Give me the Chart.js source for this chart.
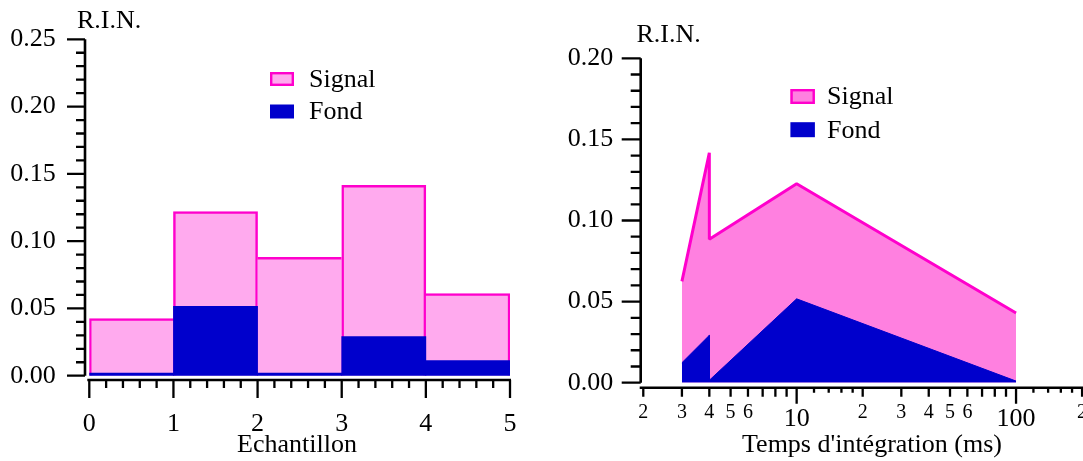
<!DOCTYPE html>
<html>
<head>
<meta charset="utf-8">
<title>R.I.N.</title>
<script src="https://cdn.jsdelivr.net/npm/chart.js@4/dist/chart.umd.min.js"></script>
<style>
  html, body { margin: 0; padding: 0; background: #fff; }
  #wrap { position: relative; width: 1083px; height: 461px; overflow: hidden; }
  #left { position: absolute; left: 0; top: 0; }
  #right { position: absolute; left: 540px; top: 0; }
</style>
</head>
<body>
<div id="wrap">
  <canvas id="left" width="540" height="461"></canvas>
  <canvas id="right" width="543" height="461"></canvas>
</div>
<script>
// left panel: R.I.N. per sample (bins of width 1)
const binCentres = [0.5, 1.5, 2.5, 3.5, 4.5];
const signalBySample = [0.0425, 0.122, 0.088, 0.1415, 0.061];
const fondBySample = [0.002, 0.0515, 0.002, 0.029, 0.0113];

// right panel: R.I.N. vs integration time (ms)
const integTimes = [3, 4, 4, 10, 100];
const signalByTime = [0.0625, 0.1417, 0.0885, 0.1227, 0.043];
const fondByTime = [0.0123, 0.0292, 0.0015, 0.0517, 0.001];

const seriesNames = ['Signal', 'Fond'];

// log axis ticks
const logLabelled = [2, 3, 4, 5, 6, 10, 20, 30, 40, 50, 60, 100, 200];
const logDecades = [10, 100];
const logUnits = [2, 3, 4, 5, 6, 7, 8, 9, 20, 30, 40, 50, 60, 70, 80, 90, 200];
const logSubs = [12, 14, 16, 18, 120, 140, 160, 180];

const PINK_LIGHT = '#FFAAEE';
const PINK = '#FF80E0';
const MAGENTA = '#FF00CC';
const BLUE = '#0000CC';
const FONT = '"Liberation Serif", "Times New Roman", serif';

Chart.defaults.font.family = FONT;
Chart.defaults.color = '#000';

// axis lines, tick marks, titles and legend (Igor-style detached axes)
const axesPlugin = {
  id: 'axes',
  afterDraw(chart, args, o) {
    const { ctx, chartArea: a, scales: { x, y } } = chart;
    const ax = a.left + o.yShift;
    const ay = a.bottom + o.xShift;
    ctx.save();
    ctx.strokeStyle = '#000';
    ctx.lineWidth = 2.6;
    ctx.beginPath();
    ctx.moveTo(ax, y.getPixelForValue(y.max));
    ctx.lineTo(ax, y.getPixelForValue(y.min));
    ctx.moveTo(a.left - 2, ay);
    ctx.lineTo(a.right + o.xExtend, ay);
    ctx.stroke();

    ctx.lineWidth = 2.3;
    ctx.beginPath();
    o.yTicks.forEach(t => {
      const py = y.getPixelForValue(t.v);
      ctx.moveTo(ax - t.len, py);
      ctx.lineTo(ax, py);
    });
    o.xTicks.forEach(t => {
      const px = x.getPixelForValue(t.v);
      ctx.moveTo(px, ay);
      ctx.lineTo(px, ay + t.len);
    });
    ctx.stroke();

    ctx.fillStyle = '#000';
    ctx.font = '26px ' + FONT;
    ctx.textBaseline = 'alphabetic';
    o.texts.forEach(t => {
      ctx.textAlign = t.align;
      ctx.fillText(t.text, t.x, t.y);
    });

    const lg = o.legend;
    ctx.textAlign = 'left';
    ctx.textBaseline = 'middle';
    lg.items.forEach((it, i) => {
      const top = lg.y + i * lg.gap;
      ctx.fillStyle = it.fill;
      ctx.fillRect(lg.x, top, lg.w, lg.h);
      if (it.stroke) {
        ctx.strokeStyle = it.stroke;
        ctx.lineWidth = 2.4;
        ctx.strokeRect(lg.x + 1.2, top + 1.2, lg.w - 2.4, lg.h - 2.4);
      }
      ctx.fillStyle = '#000';
      ctx.fillText(it.label, lg.textX, top + lg.h / 2 + 1);
    });
    ctx.restore();
  }
};

function linTicks(count, step, every, longLen, shortLen) {
  const out = [];
  for (let k = 0; k <= count; k++) out.push({ v: k * step, len: k % every === 0 ? longLen : shortLen });
  return out;
}

// which sides of a histogram bin carry the outline
function binEdges(ctx) {
  const i = ctx.dataIndex, h = signalBySample, w = 2.5;
  return {
    top: w,
    bottom: 0,
    left: (i === 0 || h[i] >= h[i - 1]) ? w : 0,
    right: (i === h.length - 1 || h[i] > h[i + 1]) ? w : 0
  };
}

new Chart(document.getElementById('left'), {
  type: 'bar',
  data: {
    datasets: [
      {
        label: seriesNames[0],
        data: binCentres.map((x, i) => ({ x, y: signalBySample[i] })),
        backgroundColor: PINK_LIGHT,
        borderColor: MAGENTA,
        borderWidth: binEdges,
        grouped: false,
        barPercentage: 1,
        categoryPercentage: 1,
        order: 1
      },
      {
        label: seriesNames[1],
        data: binCentres.map((x, i) => ({ x, y: fondBySample[i] })),
        backgroundColor: BLUE,
        borderWidth: 0,
        grouped: false,
        barPercentage: 1,
        categoryPercentage: 1,
        order: 0
      }
    ]
  },
  options: {
    responsive: false,
    animation: false,
    devicePixelRatio: 1,
    layout: { padding: { top: 39.3, right: 30, bottom: 0, left: 0 } },
    plugins: {
      legend: { display: false },
      tooltip: { enabled: false },
      axes: {
        yShift: -4.3,
        xShift: 4.3,
        xExtend: 1,
        yTicks: linTicks(25, 0.01, 5, 18, 9),
        xTicks: linTicks(25, 0.2, 5, 18, 8),
        texts: [
          { text: 'R.I.N.', x: 77, y: 27.7, align: 'left' },
          { text: 'Echantillon', x: 297, y: 452, align: 'center' }
        ],
        legend: {
          x: 270, y: 72, w: 24, h: 14, gap: 32.5, textX: 309,
          items: [
            { label: seriesNames[0], fill: PINK_LIGHT, stroke: MAGENTA },
            { label: seriesNames[1], fill: BLUE }
          ]
        }
      }
    },
    scales: {
      x: {
        type: 'linear', min: 0, max: 5, offset: false,
        grid: { display: false, drawTicks: false },
        border: { display: false },
        ticks: { stepSize: 1, padding: 32.5, maxRotation: 0, font: { size: 26 } },
        afterFit: s => { s.height = 461 - 375.7; s.paddingLeft = 0; s.paddingRight = 0; }
      },
      y: {
        min: 0, max: 0.25,
        grid: { display: false, drawTicks: false },
        border: { display: false },
        ticks: { stepSize: 0.05, padding: 33.5, font: { size: 26 }, callback: v => v.toFixed(2) },
        afterFit: s => { s.width = 89.3; s.paddingTop = 0; s.paddingBottom = 0; }
      }
    }
  },
  plugins: [axesPlugin]
});

const logTickMarks = [
  ...logDecades.map(v => ({ v, len: 16 })),
  ...logUnits.map(v => ({ v, len: 9 })),
  ...logSubs.map(v => ({ v, len: 5 }))
];

new Chart(document.getElementById('right'), {
  type: 'line',
  data: {
    datasets: [
      {
        label: seriesNames[0],
        data: integTimes.map((x, i) => ({ x, y: signalByTime[i] })),
        borderColor: MAGENTA,
        borderWidth: 3,
        borderJoinStyle: 'bevel',
        backgroundColor: PINK,
        fill: 'origin',
        pointRadius: 0,
        tension: 0,
        order: 1
      },
      {
        label: seriesNames[1],
        data: integTimes.map((x, i) => ({ x, y: fondByTime[i] })),
        borderColor: BLUE,
        borderWidth: 1,
        backgroundColor: BLUE,
        fill: 'origin',
        pointRadius: 0,
        tension: 0,
        order: 0
      }
    ]
  },
  options: {
    responsive: false,
    animation: false,
    devicePixelRatio: 1,
    layout: { padding: { top: 58.3, right: 0, bottom: 0, left: 0 } },
    plugins: {
      legend: { display: false },
      tooltip: { enabled: false },
      axes: {
        yShift: -1,
        xShift: 5,
        xExtend: 0,
        yTicks: linTicks(20, 0.01, 5, 19, 10),
        xTicks: logTickMarks,
        texts: [
          { text: 'R.I.N.', x: 96.5, y: 41.7, align: 'left' },
          { text: "Temps d'intégration (ms)", x: 332, y: 452, align: 'center' }
        ],
        legend: {
          x: 250.4, y: 89, w: 24.5, h: 15, gap: 33.2, textX: 287,
          items: [
            { label: seriesNames[0], fill: PINK, stroke: MAGENTA },
            { label: seriesNames[1], fill: BLUE }
          ]
        }
      }
    },
    scales: {
      x: {
        type: 'logarithmic', min: 1.967, max: 201.9,
        grid: { display: false, drawTicks: false },
        border: { display: false },
        afterBuildTicks: s => { s.ticks = logLabelled.map(v => ({ value: v })); },
        ticks: {
          autoSkip: false,
          maxRotation: 0,
          padding: 17.6,
          font: ctx => logDecades.includes(ctx.tick && ctx.tick.value) ? { size: 26, lineHeight: 1.44 } : { size: 20 },
          callback: v => {
            if (logDecades.includes(v)) return String(v);
            const p = Math.pow(10, Math.floor(Math.log10(v) + 1e-9));
            return String(Math.round(v / p));
          }
        },
        afterFit: s => { s.height = 461 - 382.7; s.paddingLeft = 0; s.paddingRight = 0; }
      },
      y: {
        min: 0, max: 0.2,
        grid: { display: false, drawTicks: false },
        border: { display: false },
        ticks: { stepSize: 0.05, padding: 28.5, font: { size: 26 }, callback: v => v.toFixed(2) },
        afterFit: s => { s.width = 101.7; s.paddingTop = 0; s.paddingBottom = 0; }
      }
    }
  },
  plugins: [axesPlugin]
});
</script>
</body>
</html>
